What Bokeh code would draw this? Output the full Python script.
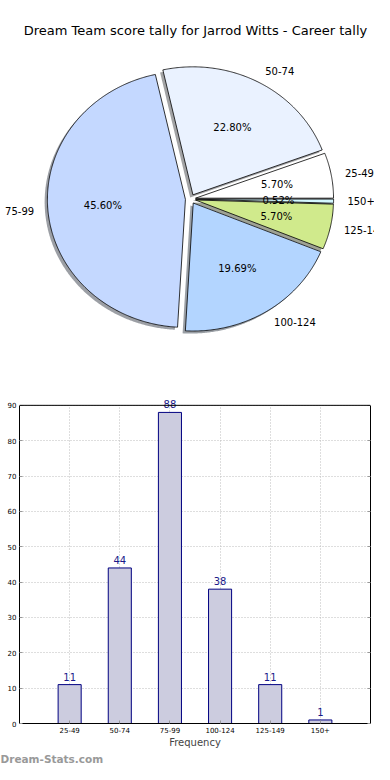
import numpy as np
from bokeh.plotting import figure
from bokeh.models import (ColumnDataSource, FixedTicker, Label, Range1d, Title,
                          LinearAxis, Span)
from bokeh.embed import file_html
from bokeh.resources import INLINE
from bokeh.core.properties import value

# ---------------- data ----------------
categories = ["25-49", "50-74", "75-99", "100-124", "125-149", "150+"]
counts = [11, 44, 88, 38, 11, 1]
pie_colors = ["#ffffff", "#eaf2ff", "#c4d8ff", "#b3d5ff", "#d0ea8c", "#d4f8ff"]
title_text = "Dream Team score tally for Jarrod Witts - Career tally"
y_ticks = [0, 10, 20, 30, 40, 50, 60, 70, 80, 90]
watermark = "Dream-Stats.com"

FONT = "DejaVu Sans"

# ---------------- pie ----------------
explode = 0.037
shadow_dx, shadow_dy = -0.02, -0.02
total = float(sum(counts))
fracs = [c / total for c in counts]
edges = np.concatenate([[0.0], np.cumsum(fracs) * 360.0])

wx, wy, sx_, sy_, shadow_cols = [], [], [], [], []
lab_l = dict(x=[], y=[], t=[])
lab_r = dict(x=[], y=[], t=[])
pct = dict(x=[], y=[], t=[])
for i, c in enumerate(categories):
    t1, t2 = edges[i], edges[i + 1]
    mid = np.deg2rad((t1 + t2) / 2)
    ox, oy = explode * np.cos(mid), explode * np.sin(mid)
    n = max(3, int((t2 - t1) / 0.5) + 2)
    th = np.deg2rad(np.linspace(t1, t2, n))
    xs = np.concatenate([[ox], ox + np.cos(th)])
    ys = np.concatenate([[oy], oy + np.sin(th)])
    wx.append(list(xs)); wy.append(list(ys))
    sx_.append(list(xs + shadow_dx)); sy_.append(list(ys + shadow_dy))
    r, g, b = int(pie_colors[i][1:3], 16), int(pie_colors[i][3:5], 16), int(pie_colors[i][5:7], 16)
    shadow_cols.append("#%02x%02x%02x" % (int(r * 0.3), int(g * 0.3), int(b * 0.3)))
    lx, ly = ox + 1.1 * np.cos(mid), oy + 1.1 * np.sin(mid)
    d = lab_l if lx > 0 else lab_r
    d["x"].append(lx); d["y"].append(ly); d["t"].append(c)
    pct["x"].append(ox + 0.6 * np.cos(mid)); pct["y"].append(oy + 0.6 * np.sin(mid))
    pct["t"].append("%.2f%%" % (100.0 * fracs[i]))

p = figure(width=374, height=394, x_range=Range1d(-1.3768, 1.3333),
           y_range=Range1d(-1.5273, 1.5508), output_backend="svg",
           toolbar_location=None, x_axis_location=None, y_axis_location=None,
           min_border=0)
p.grid.visible = False
p.outline_line_color = None

p.patches(xs="x", ys="y", fill_color="c", fill_alpha=0.5, line_color=None,
          source=ColumnDataSource(dict(x=sx_, y=sy_, c=shadow_cols)))
p.patches(xs="x", ys="y", fill_color="c", line_color="black", line_width=0.8,
          source=ColumnDataSource(dict(x=wx, y=wy, c=pie_colors)))

p.text(x="x", y="y", text="t", source=ColumnDataSource(lab_l), text_align="left",
       text_baseline="middle", text_font=value(FONT), text_font_size="10px",
       text_color="black")
p.text(x="x", y="y", text="t", source=ColumnDataSource(lab_r), text_align="right",
       text_baseline="middle", text_font=value(FONT), text_font_size="10px",
       text_color="black")
p.text(x="x", y="y", text="t", source=ColumnDataSource(pct), text_align="center",
       text_baseline="middle", text_font=value(FONT), text_font_size="10px",
       text_color="black")

p.add_layout(Label(x=0.036, y=1.3164, text=title_text, text_align="center",
                   text_baseline="middle", text_font=FONT, text_font_size="13px",
                   text_color="black"))

# ---------------- bars ----------------
xpos = list(range(1, len(categories) + 1))
ymax = y_ticks[-1]
bsrc = ColumnDataSource(dict(x=xpos, top=counts, lab=[str(c) for c in counts]))

b = figure(width=374, height=370, x_range=Range1d(0, 7), y_range=Range1d(0, 92.5),
           output_backend="svg", toolbar_location=None,
           min_border_left=19, min_border_right=4, min_border_top=2,
           min_border_bottom=40)
b.vbar(x="x", top="top", width=0.46, fill_color="#ccccdf", line_color="#000080",
       line_width=1, source=bsrc)
b.text(x="x", y="top", text="lab", source=bsrc, text_align="center",
       text_baseline="bottom", y_offset=-4, text_font=value(FONT),
       text_font_size="10px", text_color="#1a1a8a")

b.xaxis.ticker = FixedTicker(ticks=xpos)
b.xaxis.major_label_overrides = {x: c for x, c in zip(xpos, categories)}
b.yaxis.ticker = FixedTicker(ticks=y_ticks)
b.yaxis.bounds = (0, ymax)

right = LinearAxis(ticker=FixedTicker(ticks=y_ticks), bounds=(0, ymax),
                   major_label_overrides={t: "" for t in y_ticks})
b.add_layout(right, "right")

for ax in (b.xaxis[0], b.yaxis[0], right):
    ax.major_label_text_font = FONT
    ax.major_label_text_font_size = "7px"
    ax.major_label_text_color = "black"
    ax.major_tick_in = 3
    ax.major_tick_out = 0
    ax.major_tick_line_color = "#999999"
    ax.minor_tick_line_color = None
    ax.axis_line_color = "black"
    ax.major_label_standoff = 3
right.major_label_standoff = 0

b.xaxis.axis_label = "Frequency"
b.xaxis.axis_label_text_font = FONT
b.xaxis.axis_label_text_font_size = "10px"
b.xaxis.axis_label_text_font_style = "normal"
b.xaxis.axis_label_standoff = 1
b.grid.grid_line_color = "#bcbcbc"
b.grid.grid_line_dash = "1 2"
b.grid.grid_line_width = 1
b.xgrid.cross_bounds = (0, ymax)
b.outline_line_color = None
b.add_layout(Span(location=ymax, dimension="width", line_color="black", line_width=1))

b.add_layout(Title(text=watermark, align="left", offset=-19, standoff=0,
                   text_font=FONT, text_font_size="10.5px", text_font_style="bold",
                   text_color="#999999"), "below")

open("out.html", "w").write(file_html([p, b], INLINE))
